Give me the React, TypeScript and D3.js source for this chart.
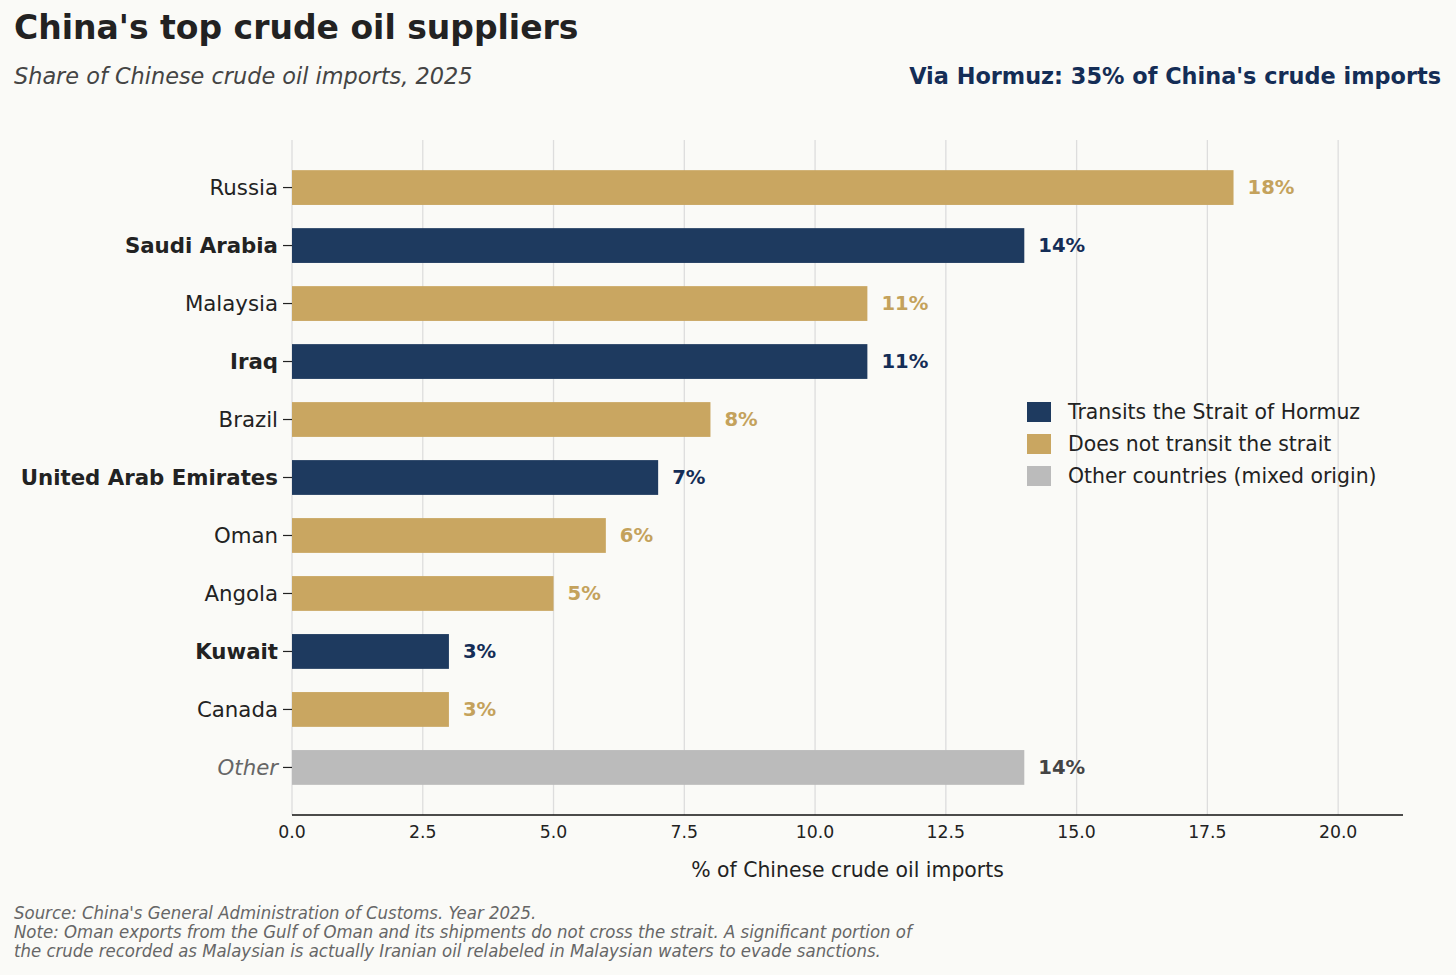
import * as d3 from 'd3'

const countries = ['Russia', 'Saudi Arabia', 'Malaysia', 'Iraq', 'Brazil', 'United Arab Emirates', 'Oman', 'Angola', 'Kuwait', 'Canada', 'Other']
const shares = [18, 14, 11, 11, 8, 7, 6, 5, 3, 3, 14]
// 'h' = transits Hormuz, 'n' = does not, 'o' = other
const routes = ['n', 'h', 'n', 'h', 'n', 'h', 'n', 'n', 'h', 'n', 'o']
const xTicks = [0, 2.5, 5, 7.5, 10, 12.5, 15, 17.5, 20]
const legendItems = ['Transits the Strait of Hormuz', 'Does not transit the strait', 'Other countries (mixed origin)']
const legendKeys = ['h', 'n', 'o']

const W = 1456
const H = 975
const font = 'DejaVu Sans, sans-serif'

const barColor: Record<string, string> = { h: '#1e3a5f', n: '#c9a661', o: '#bbbbbb' }
const textColor: Record<string, string> = { h: '#142d56', n: '#c4a25c', o: '#444444' }

export default function App() {
  const left = 292
  const right = 1403
  const top = 140
  const bottom = 815

  const x = d3.scaleLinear().domain([0, 21.24]).range([left, right])
  const y = d3.scaleBand<string>().domain(countries).range([top, bottom]).paddingInner(0.4).paddingOuter(0.52)

  return (
    <svg width={W} height={H} style={{ display: 'block', position: 'absolute', left: 0, top: 0, background: '#fafaf7' }}>
      <rect width={W} height={H} fill="#fafaf7" />

      <text x={14} y={39} fontFamily={font} fontSize={33} fontWeight="bold" fill="#222">
        China's top crude oil suppliers
      </text>
      <text x={14} y={84} fontFamily={font} fontSize={22.4} fontStyle="italic" fill="#444">
        Share of Chinese crude oil imports, 2025
      </text>
      <text x={1441} y={84} fontFamily={font} fontSize={22.4} fontWeight="bold" fill="#142d56" textAnchor="end">
        Via Hormuz: 35% of China's crude imports
      </text>

      {/* grid */}
      {xTicks.map((t) => (
        <line key={t} x1={x(t)} x2={x(t)} y1={top} y2={bottom} stroke="#dddddd" strokeWidth={1.3} />
      ))}

      {/* bars */}
      {countries.map((c, i) => {
        const yy = y(c) as number
        const r = routes[i]
        return (
          <g key={c}>
            <rect x={x(0)} y={yy} width={x(shares[i]) - x(0)} height={y.bandwidth()} fill={barColor[r]} />
            <text
              x={x(shares[i]) + 14}
              y={yy + y.bandwidth() / 2}
              dy="0.35em"
              fontFamily={font}
              fontSize={19.6}
              fontWeight="bold"
              fill={textColor[r]}
            >
              {shares[i]}%
            </text>
            <line x1={left - 9} x2={left} y1={yy + y.bandwidth() / 2} y2={yy + y.bandwidth() / 2} stroke="#222" strokeWidth={1.2} />
            <text
              x={278}
              y={yy + y.bandwidth() / 2}
              dy="0.35em"
              textAnchor="end"
              fontFamily={font}
              fontSize={21.3}
              fontWeight={r === 'h' ? 'bold' : 'normal'}
              fontStyle={r === 'o' ? 'italic' : 'normal'}
              fill={r === 'o' ? '#666' : '#222'}
            >
              {c}
            </text>
          </g>
        )
      })}

      {/* x axis */}
      <line x1={left} x2={right} y1={bottom} y2={bottom} stroke="#111" strokeWidth={1.5} />
      {xTicks.map((t) => (
        <text key={t} x={x(t)} y={838} textAnchor="middle" fontFamily={font} fontSize={17.3} fill="#222">
          {t.toFixed(1)}
        </text>
      ))}
      <text x={(left + right) / 2} y={877} textAnchor="middle" fontFamily={font} fontSize={20.4} fill="#222">
        % of Chinese crude oil imports
      </text>

      {/* legend */}
      {legendItems.map((l, i) => (
        <g key={l} transform={`translate(1027, ${402 + i * 32})`}>
          <rect width={24} height={20} fill={barColor[legendKeys[i]]} />
          <text x={41} y={10} dy="0.35em" fontFamily={font} fontSize={20.4} fill="#222">
            {l}
          </text>
        </g>
      ))}

      {/* footnote */}
      <g fontFamily="DejaVu Sans Condensed, DejaVu Sans, sans-serif" fontSize={18.4} fontStyle="italic" fill="#666">
        <text x={14} y={919}>Source: China's General Administration of Customs. Year 2025.</text>
        <text x={14} y={938}>Note: Oman exports from the Gulf of Oman and its shipments do not cross the strait. A significant portion of</text>
        <text x={14} y={957}>the crude recorded as Malaysian is actually Iranian oil relabeled in Malaysian waters to evade sanctions.</text>
      </g>
    </svg>
  )
}
